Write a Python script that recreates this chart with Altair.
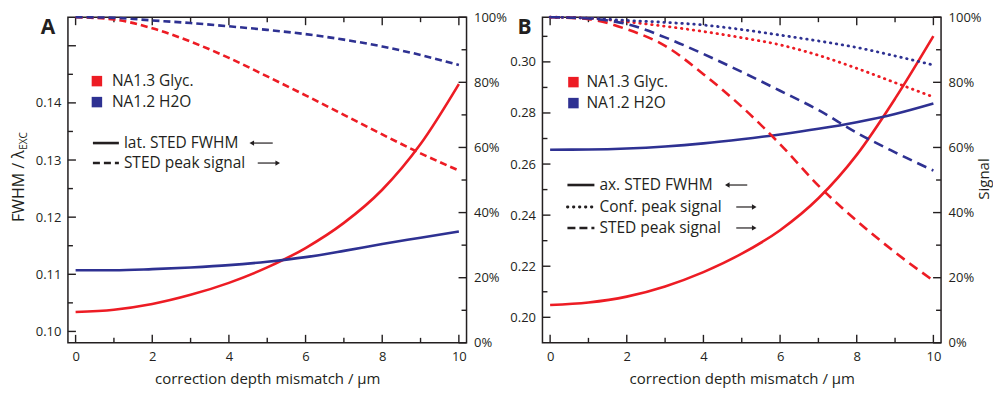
import altair as alt
import pandas as pd

RED = "#ED1C24"
BLUE = "#2E3192"
INK = "#231F20"
FONT = "Open Sans"

# ---------------- data ----------------
x_um = [0, 1, 2, 3, 4, 5, 6, 7, 8, 9, 10]
series_names = ["NA1.3 Glyc.", "NA1.2 H2O"]

# Panel A
a_fwhm_glyc = [0.1034, 0.1038, 0.1048, 0.1064, 0.1085, 0.1112, 0.1146, 0.1190, 0.1248, 0.1328, 0.1433]
a_fwhm_h2o = [0.1107, 0.1107, 0.1109, 0.1112, 0.1116, 0.1122, 0.1130, 0.1141, 0.1153, 0.1164, 0.1175]
a_sted_glyc = [1.0, 0.993, 0.966, 0.925, 0.875, 0.818, 0.760, 0.700, 0.640, 0.582, 0.529]
a_sted_h2o = [1.0, 0.998, 0.990, 0.982, 0.972, 0.961, 0.948, 0.931, 0.910, 0.884, 0.853]

# Panel B
b_fwhm_glyc = [0.2048, 0.2058, 0.2081, 0.2121, 0.2177, 0.2249, 0.2341, 0.2466, 0.2636, 0.2856, 0.3101]
b_fwhm_h2o = [0.2656, 0.2657, 0.2661, 0.2669, 0.2681, 0.2697, 0.2716, 0.2738, 0.2764, 0.2796, 0.2837]
b_conf_glyc = [1.0, 0.997, 0.986, 0.972, 0.956, 0.937, 0.915, 0.883, 0.843, 0.799, 0.755]
b_conf_h2o = [1.0, 0.997, 0.990, 0.984, 0.976, 0.962, 0.945, 0.927, 0.907, 0.881, 0.853]
b_sted_glyc = [1.0, 0.994, 0.963, 0.912, 0.825, 0.725, 0.610, 0.483, 0.375, 0.278, 0.191]
b_sted_h2o = [1.0, 0.996, 0.979, 0.938, 0.887, 0.832, 0.774, 0.715, 0.645, 0.585, 0.529]

# ticks
x_major = [0, 2, 4, 6, 8, 10]
x_minor = [1, 3, 5, 7, 9]
a_left_labels = [0.10, 0.11, 0.12, 0.13, 0.14]
a_left_major = [0.10, 0.11, 0.12, 0.13, 0.14, 0.15]
a_left_minor = [0.105, 0.115, 0.125, 0.135, 0.145]
b_left_labels = [0.20, 0.22, 0.24, 0.26, 0.28, 0.30]
b_left_major = [0.20, 0.22, 0.24, 0.26, 0.28, 0.30]
b_left_minor = [0.21, 0.23, 0.25, 0.27, 0.29, 0.31]
sig_major = [0.0, 0.2, 0.4, 0.6, 0.8, 1.0]
sig_minor = [0.1, 0.3, 0.5, 0.7, 0.9]

a_left_domain = [0.098, 0.155]
b_left_domain = [0.19, 0.3175]
x_domain = [-0.2, 10.2]

W, H = 399, 326
MAJ, MIN = 8, 5


def fwhm_df(glyc, h2o):
    return pd.DataFrame({
        "x": x_um * 2,
        "v": glyc + h2o,
        "s": [series_names[0]] * len(x_um) + [series_names[1]] * len(x_um),
    })


def sig_df(glyc, h2o):
    return pd.DataFrame({
        "x": x_um * 2,
        "p": glyc + h2o,
        "s": [series_names[0]] * len(x_um) + [series_names[1]] * len(x_um),
    })


def X():
    return alt.X("x:Q", scale=alt.Scale(domain=x_domain, nice=False, zero=False),
                 axis=alt.Axis(values=x_major, format="d",
                               title="correction depth mismatch / µm",
                               labelPadding=8, titlePadding=8))


def YL(dom, labels):
    return alt.Y("v:Q", scale=alt.Scale(domain=dom, nice=False, zero=False),
                 axis=alt.Axis(orient="left", values=labels, format=".2f",
                               title=None, labelPadding=7))


def YR():
    return alt.Y("p:Q", scale=alt.Scale(domain=[0, 1], nice=False, zero=False),
                 axis=alt.Axis(orient="right", values=sig_major, format=".0%",
                               title=None, labelPadding=7))


COLOR = alt.Color("s:N", scale=alt.Scale(domain=series_names, range=[RED, BLUE]), legend=None)


def one_row():
    return pd.DataFrame({"k": [0]})


def text_at(txt, x, y, size, weight="normal", align="left", angle=0):
    return alt.Chart(pd.DataFrame({"t": [txt]})).mark_text(
        align=align, baseline="middle", fontSize=size, font=FONT,
        fontWeight=weight, color=INK, angle=angle
    ).encode(x=alt.value(x), y=alt.value(y), text="t:N")


def square_at(color, x, y):
    return alt.Chart(one_row()).mark_square(size=110, color=color, opacity=1).encode(
        x=alt.value(x), y=alt.value(y))


def seg(x1, x2, y, width=2.6, dash=None, cap="butt"):
    kw = dict(color=INK, strokeWidth=width, strokeCap=cap)
    if dash is not None:
        kw["strokeDash"] = dash
    return alt.Chart(one_row()).mark_rule(**kw).encode(
        x=alt.value(x1), x2=alt.value(x2), y=alt.value(y))


def arrow(x1, x2, y, left):
    line = seg(x1 + (3 if left else 0), x2 - (0 if left else 3), y, width=1.2)
    tip = alt.Chart(one_row()).mark_point(
        shape="triangle-left" if left else "triangle-right", filled=True,
        size=28, color=INK, opacity=1
    ).encode(x=alt.value(x1 + 3 if left else x2 - 3), y=alt.value(y))
    return [line, tip]


def x_ticks():
    layers = []
    for vals, ln in ((x_major, MAJ), (x_minor, MIN)):
        d = pd.DataFrame({"x": vals})
        layers.append(alt.Chart(d).mark_rule(color=INK, strokeWidth=1.4).encode(
            x=X(), y=alt.value(H), y2=alt.value(H - ln)))
        layers.append(alt.Chart(d).mark_rule(color=INK, strokeWidth=1.4).encode(
            x=X(), y=alt.value(0), y2=alt.value(ln)))
    return layers


def left_ticks(dom, labels, major, minor):
    layers = []
    for vals, ln in ((major, MAJ), (minor, MIN)):
        d = pd.DataFrame({"v": vals})
        layers.append(alt.Chart(d).mark_rule(color=INK, strokeWidth=1.4).encode(
            y=YL(dom, labels), x=alt.value(0), x2=alt.value(ln)))
    return layers


def right_ticks():
    layers = []
    for vals, ln in ((sig_major, MAJ), (sig_minor, MIN)):
        d = pd.DataFrame({"p": vals})
        layers.append(alt.Chart(d).mark_rule(color=INK, strokeWidth=1.4).encode(
            y=YR(), x=alt.value(W), x2=alt.value(W - ln)))
    return layers


def fwhm_line(df, dom, labels):
    return alt.Chart(df).mark_line(strokeWidth=2.6, interpolate="monotone").encode(
        x=X(), y=YL(dom, labels), color=COLOR, detail="s:N")


def sig_line(df, dash, cap="butt", width=2.6):
    return alt.Chart(df).mark_line(strokeWidth=width, interpolate="monotone",
                                   strokeDash=dash, strokeCap=cap).encode(
        x=X(), y=YR(), color=COLOR, detail="s:N")


DASH_A = [7, 4]
DASH_B = [10, 6]
DOT_B = [0.5, 5.5]

# ---------------- Panel A ----------------
leftA = alt.layer(
    fwhm_line(fwhm_df(a_fwhm_glyc, a_fwhm_h2o), a_left_domain, a_left_labels),
    *left_ticks(a_left_domain, a_left_labels, a_left_major, a_left_minor),
    *x_ticks(),
)
rightA = alt.layer(
    sig_line(sig_df(a_sted_glyc, a_sted_h2o), DASH_A),
    *right_ticks(),
)
decoA = [
    text_at("A", -20, 11, 21, weight="bold", align="center"),
    text_at("FWHM / λ", -49, 169, 16, align="center", angle=270),
    text_at("EXC", -44, 124, 10, align="center", angle=270),
    square_at(RED, 29, 64), text_at(series_names[0], 44, 64, 15.5),
    square_at(BLUE, 29, 85), text_at(series_names[1], 44, 85, 15.5),
    seg(25, 51, 126), text_at("lat. STED FWHM", 56, 126, 15.5),
    *arrow(181, 205, 126, True),
    seg(25, 51, 146, dash=DASH_A), text_at("STED peak signal", 56, 146, 15.5),
    *arrow(190, 213, 146, False),
]
panelA = alt.layer(leftA, rightA, *decoA).resolve_scale(y="independent").properties(width=W, height=H)

# ---------------- Panel B ----------------
leftB = alt.layer(
    fwhm_line(fwhm_df(b_fwhm_glyc, b_fwhm_h2o), b_left_domain, b_left_labels),
    *left_ticks(b_left_domain, b_left_labels, b_left_major, b_left_minor),
    *x_ticks(),
)
rightB = alt.layer(
    sig_line(sig_df(b_conf_glyc, b_conf_h2o), DOT_B, cap="round", width=2.8),
    sig_line(sig_df(b_sted_glyc, b_sted_h2o), DASH_B),
    *right_ticks(),
)
decoB = [
    text_at("B", -18, 11, 21, weight="bold", align="center"),
    text_at("Signal", W + 43, 162, 15, align="center", angle=270),
    square_at(RED, 31, 65), text_at(series_names[0], 44, 65, 15.5),
    square_at(BLUE, 31, 86), text_at(series_names[1], 44, 86, 15.5),
    seg(25, 52, 168), text_at("ax. STED FWHM", 57, 168, 15.5),
    *arrow(182, 205, 168, True),
    seg(25, 52, 190, dash=DOT_B, cap="round", width=2.8), text_at("Conf. peak signal", 57, 190, 15.5),
    *arrow(194, 215, 190, False),
    seg(25, 52, 211, dash=[8, 4]), text_at("STED peak signal", 57, 211, 15.5),
    *arrow(194, 215, 211, False),
]
panelB = alt.layer(leftB, rightB, *decoB).resolve_scale(y="independent").properties(width=W, height=H)

chart = alt.hconcat(panelA, panelB, spacing=76, bounds="flush").properties(
    padding={"left": 2, "top": 2, "right": 0, "bottom": 0}
).configure_view(
    stroke=INK, strokeWidth=1.5
).configure_axis(
    domain=False, grid=False, ticks=False,
    labelFont=FONT, labelFontSize=13, labelColor=INK,
    titleFont=FONT, titleFontSize=15, titleColor=INK, titleFontWeight="normal",
)

chart.save("out.html", embed_options={"renderer": "svg", "actions": False})
